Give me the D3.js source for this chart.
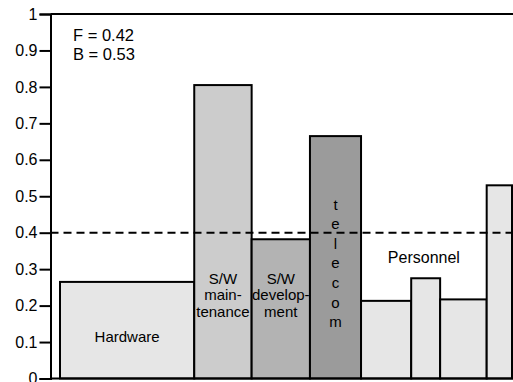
<!DOCTYPE html>
<html>
<head>
<meta charset="utf-8">
<script src="https://cdn.jsdelivr.net/npm/d3@7"></script>
<style>
  html, body { margin: 0; padding: 0; background: #fff; }
  svg { display: block; font-family: "Liberation Sans", Arial, Helvetica, sans-serif; }
</style>
</head>
<body>
<svg id="chart" width="513" height="382"></svg>
<script>
// Cost categories: each bar's width is its share of spending, height its ratio
const categories = ["Hardware", "S/W maintenance", "S/W development", "telecom",
                    "Personnel", "Personnel", "Personnel", "Personnel"];
const shares = [0.297, 0.127, 0.129, 0.113, 0.111, 0.064, 0.103, 0.056];
const values = [0.265, 0.805, 0.382, 0.665, 0.213, 0.275, 0.217, 0.53];
const fills = ["#e6e6e6", "#cccccc", "#b3b3b3", "#9b9b9b",
               "#e6e6e6", "#e6e6e6", "#e6e6e6", "#e6e6e6"];
const yTicks = [0, 0.1, 0.2, 0.3, 0.4, 0.5, 0.6, 0.7, 0.8, 0.9, 1];
const threshold = 0.4;
const statLines = ["F = 0.42", "B = 0.53"];

const svg = d3.select("#chart");
const axisX = 50.5, plotLeft = 60, plotRight = 512;

const y = d3.scaleLinear().domain([0, 1]).range([378.5, 14]);
const x = d3.scaleLinear().domain([0, 1]).range([plotLeft, plotRight]);

// cumulative start of every bar along the share axis
const starts = [];
shares.reduce((acc, s) => { starts.push(acc); return acc + s; }, 0);

const bars = categories.map((c, i) => ({
  name: c, x0: starts[i], x1: starts[i] + shares[i], v: values[i], fill: fills[i]
}));

// bars
svg.append("g").selectAll("rect").data(bars).join("rect")
  .attr("x", d => x(d.x0))
  .attr("y", d => y(d.v))
  .attr("width", d => x(d.x1) - x(d.x0))
  .attr("height", d => y(0) - y(d.v))
  .attr("fill", d => d.fill)
  .attr("stroke", "#000")
  .attr("stroke-width", 2);

// threshold line
svg.append("line")
  .attr("x1", axisX).attr("x2", 513)
  .attr("y1", y(threshold)).attr("y2", y(threshold))
  .attr("stroke", "#000").attr("stroke-width", 2)
  .attr("stroke-dasharray", "8,5");

// frame top and baseline
svg.append("line").attr("x1", axisX).attr("x2", 513)
  .attr("y1", y(1)).attr("y2", y(1)).attr("stroke", "#000").attr("stroke-width", 2);
svg.append("line").attr("x1", axisX).attr("x2", 513)
  .attr("y1", y(0)).attr("y2", y(0)).attr("stroke", "#000").attr("stroke-width", 2);

// y axis
const yAxis = d3.axisLeft(y).tickValues(yTicks).tickFormat(d3.format("")).tickSize(11).tickPadding(2);
const gy = svg.append("g").attr("transform", `translate(${axisX},0)`).call(yAxis);
gy.select(".domain").attr("stroke-width", 2);
gy.selectAll(".tick line").attr("stroke-width", 2);
gy.selectAll(".tick text").attr("font-size", 16).attr("fill", "#000")
  .attr("font-family", "'Liberation Sans', Arial, sans-serif");

// statistics note
svg.append("g").selectAll("text").data(statLines).join("text")
  .attr("x", 73).attr("y", (d, i) => 41 + i * 19)
  .attr("font-size", 16.5).text(d => d);

// bar labels
const cx = i => (x(bars[i].x0) + x(bars[i].x1)) / 2;
const label = (tx, ty, str, size = 15) => svg.append("text")
  .attr("x", tx).attr("y", ty).attr("text-anchor", "middle")
  .attr("font-size", size).text(str);

label(cx(0), 342, "Hardware");
["S/W", "main-", "tenance"].forEach((t, k) => label(cx(1), 283.5 + k * 16.7, t));
["S/W", "develop-", "ment"].forEach((t, k) => label(cx(2), 283.5 + k * 16.7, t));
"telecom".split("").forEach((ch, k) => label(cx(3), 209.5 + k * 19.6, ch));
label((x(bars[4].x0) + x(bars[6].x1)) / 2, 263, "Personnel", 16);
</script>
</body>
</html>
